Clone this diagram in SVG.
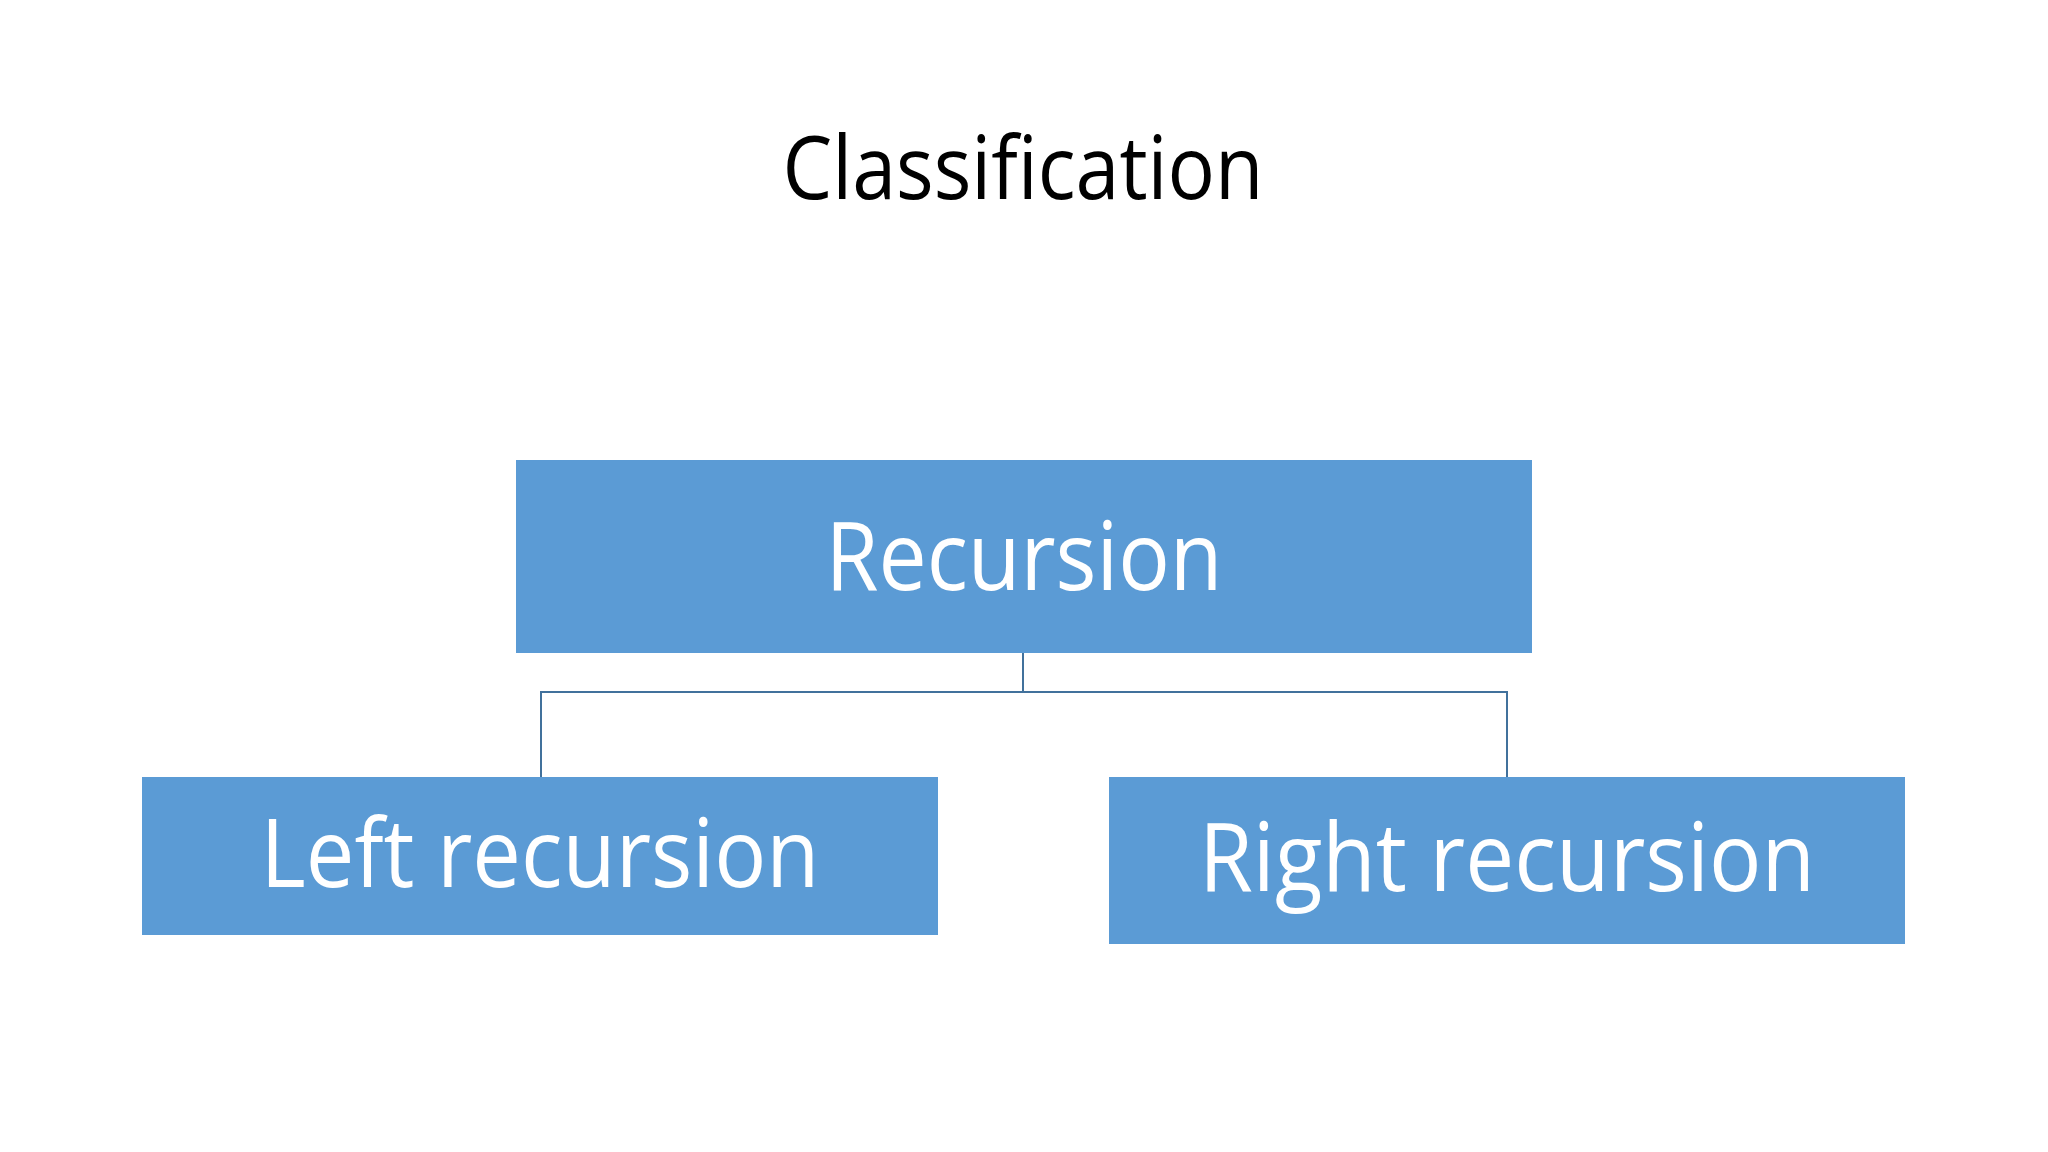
<svg xmlns="http://www.w3.org/2000/svg" width="2048" height="1152" viewBox="0 0 2048 1152">
<style>
.box{fill:#5b9bd5}
.lbl{font-family:"Open Sans","Noto Sans",sans-serif;font-size:95px;fill:#fff}
.conn{stroke:#41719c;stroke-width:2;fill:none}
</style>
<rect width="2048" height="1152" fill="#fff"/>
<text x="1023" y="199" font-family="Open Sans, Noto Sans, sans-serif" font-size="88" fill="#000" text-anchor="middle" textLength="481" lengthAdjust="spacingAndGlyphs">Classification</text>
<g id="connectors">
<path class="conn" d="M1023 653V692M541 777V692H1507V777"/>
</g>
<g id="recursion">
<rect class="box" x="516" y="460" width="1016" height="193"/>
<text class="lbl" x="1024" y="590" text-anchor="middle" textLength="397" lengthAdjust="spacingAndGlyphs">Recursion</text>
</g>
<g id="left">
<rect class="box" x="142" y="777" width="796" height="158"/>
<text class="lbl" x="540" y="887" text-anchor="middle" textLength="559" lengthAdjust="spacingAndGlyphs">Left recursion</text>
</g>
<g id="right">
<rect class="box" x="1109" y="777" width="796" height="167"/>
<text class="lbl" x="1507" y="891" text-anchor="middle" textLength="616" lengthAdjust="spacingAndGlyphs">Right recursion</text>
</g>
</svg>
